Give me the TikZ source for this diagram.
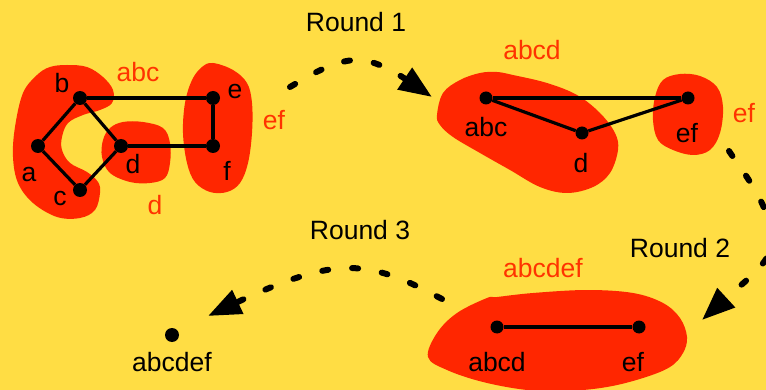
\documentclass[tikz,border=0pt]{standalone}
\usepackage{fontspec}
\setmainfont{Liberation Sans}
\usetikzlibrary{arrows.meta}
\definecolor{bgyellow}{HTML}{FFDD44}
\definecolor{blobred}{HTML}{FF2600}
\definecolor{labred}{HTML}{FF3300}
\begin{document}
\begin{tikzpicture}[x=1pt,y=-1pt,
  vtx/.style={circle,fill=black,inner sep=0pt,minimum size=14pt},
  lab/.style={inner sep=0pt,font=\fontsize{26.5}{30}\selectfont},
  rlab/.style={lab,text=labred},
  edge/.style={line width=3.2pt},
  blob/.style={fill=blobred},
  roundarrow/.style={line width=6pt,line cap=round,dash pattern=on 6pt off 24pt,
    -{Triangle[length=33pt,width=25pt]}}]
\useasboundingbox (0,0) rectangle (766,390);
\clip (0,0) rectangle (766,390);
\fill[bgyellow] (0,0) rectangle (766,390);

% ---------- initial graph ----------
\fill[blob] plot[smooth cycle,tension=0.6] coordinates {
  (67,65) (87,67) (103,77) (113,90) (112,103) (100,110) (83,115) (68,123)
  (62,137) (62,150) (70,163) (87,172) (98,182) (100,193) (95,210) (80,218)
  (57,217) (33,203) (18,183) (13,157) (15,127) (23,93) (37,75) (50,67)};
\fill[blob] plot[smooth cycle,tension=0.6] coordinates {
  (103,140) (110,128) (123,122) (143,122) (163,128) (170,143) (170,163)
  (165,178) (150,183) (130,182) (110,173) (102,157)};
\fill[blob] plot[smooth cycle,tension=0.6] coordinates {
  (213,63) (233,70) (247,83) (252,103) (252,133) (248,163) (240,183)
  (227,192) (210,192) (195,182) (187,163) (183,133) (185,103) (192,80) (202,67)};

\node[vtx] (a) at (38,146) {};
\node[vtx] (b) at (80,98) {};
\node[vtx] (c) at (80,190) {};
\node[vtx] (d) at (121,146) {};
\node[vtx] (e) at (213,98) {};
\node[vtx] (f) at (213,146) {};
\draw[edge] (b) -- (e);
\draw[edge] (e) -- (f);
\draw[edge] (f) -- (d);
\draw[edge] (d) -- (b);
\draw[edge] (b) -- (a);
\draw[edge] (a) -- (c);
\draw[edge] (c) -- (d);

\node[lab] (la) at (29,175) {a};
\node[lab] (lb) at (62,83) {b};
\node[lab] (lc) at (60,199) {c};
\node[lab] (ld) at (133,164) {d};
\node[lab] (le) at (235,92) {e};
\node[lab] (lf) at (227,171) {f};
\node[rlab] (gabc) at (138,72) {abc};
\node[rlab] (gd) at (155,205) {d};
\node[rlab] (gef) at (274,120) {ef};

% ---------- after round 1 ----------
\fill[blob] plot[smooth cycle,tension=0.6] coordinates {
  (437,115) (443,93) (460,80) (480,73) (497,72) (513,75) (547,83) (577,95)
  (600,113) (615,133) (618,150) (610,173) (593,187) (567,193) (540,187)
  (510,170) (480,153) (453,137) (440,125)};
\fill[blob] plot[smooth cycle,tension=0.6] coordinates {
  (655,97) (663,80) (680,74) (700,76) (717,87) (723,107) (720,133) (710,150)
  (693,155) (673,150) (658,140) (653,120)};
\node[vtx,minimum size=13pt] (r1abc) at (486,98) {};
\node[vtx,minimum size=13pt] (r1d) at (582,133) {};
\node[vtx,minimum size=13pt] (r1ef) at (688,98) {};
\draw[edge] (r1abc) -- (r1ef);
\draw[edge] (r1abc) -- (r1d);
\draw[edge] (r1d) -- (r1ef);
\node[lab] (l1abc) at (486,127) {abc};
\node[lab] (l1d) at (581,163) {d};
\node[lab] (l1ef) at (687,133) {ef};
\node[rlab] (g1abcd) at (532,50) {abcd};
\node[rlab] (g1ef) at (744,113) {ef};

% ---------- after round 2 ----------
\fill[blob] plot[smooth cycle,tension=0.6] coordinates {
  (428,357) (437,333) (457,313) (487,298) (497,297) (533,293) (587,290)
  (633,293) (663,303) (680,318) (687,337) (683,353) (670,367) (643,378)
  (607,387) (567,391) (527,390) (483,382) (447,370)};
\node[vtx,minimum size=13pt] (r2abcd) at (497,327) {};
\node[vtx,minimum size=13pt] (r2ef) at (639,327) {};
\draw[edge] (r2abcd) -- (r2ef);
\node[lab] (l2abcd) at (497,362) {abcd};
\node[lab] (l2ef) at (633,362) {ef};
\node[rlab] (g2abcdef) at (543,268) {abcdef};

% ---------- after round 3 ----------
\node[vtx] (r3) at (172,335) {};
\node[lab] (l3) at (172,362) {abcdef};

% ---------- round arrows ----------
\node[lab] (round1) at (356,22) {Round 1};
\node[lab] (round2) at (680,248) {Round 2};
\node[lab] (round3) at (360,230) {Round 3};

\coordinate (a1s) at (290,87);
\coordinate (a1m) at (357,60);
\coordinate (a1e) at (432,97);
\draw[roundarrow] (a1s) .. controls (310,75) and (335,60) .. (a1m)
  .. controls (375,60) and (395,72) .. (a1e);

\coordinate (a2s) at (729,151);
\coordinate (a2m) at (772,240);
\coordinate (a2e) at (702,320);
\draw[roundarrow] (a2s) .. controls (745,175) and (770,205) .. (a2m)
  .. controls (774,262) and (740,285) .. (a2e);

\coordinate (a3s) at (442,299);
\coordinate (a3m) at (348,268);
\coordinate (a3e) at (208,316);
\draw[roundarrow] (a3s) .. controls (415,285) and (385,268) .. (a3m)
  .. controls (318,268) and (280,282) .. (a3e);
\end{tikzpicture}
\end{document}
